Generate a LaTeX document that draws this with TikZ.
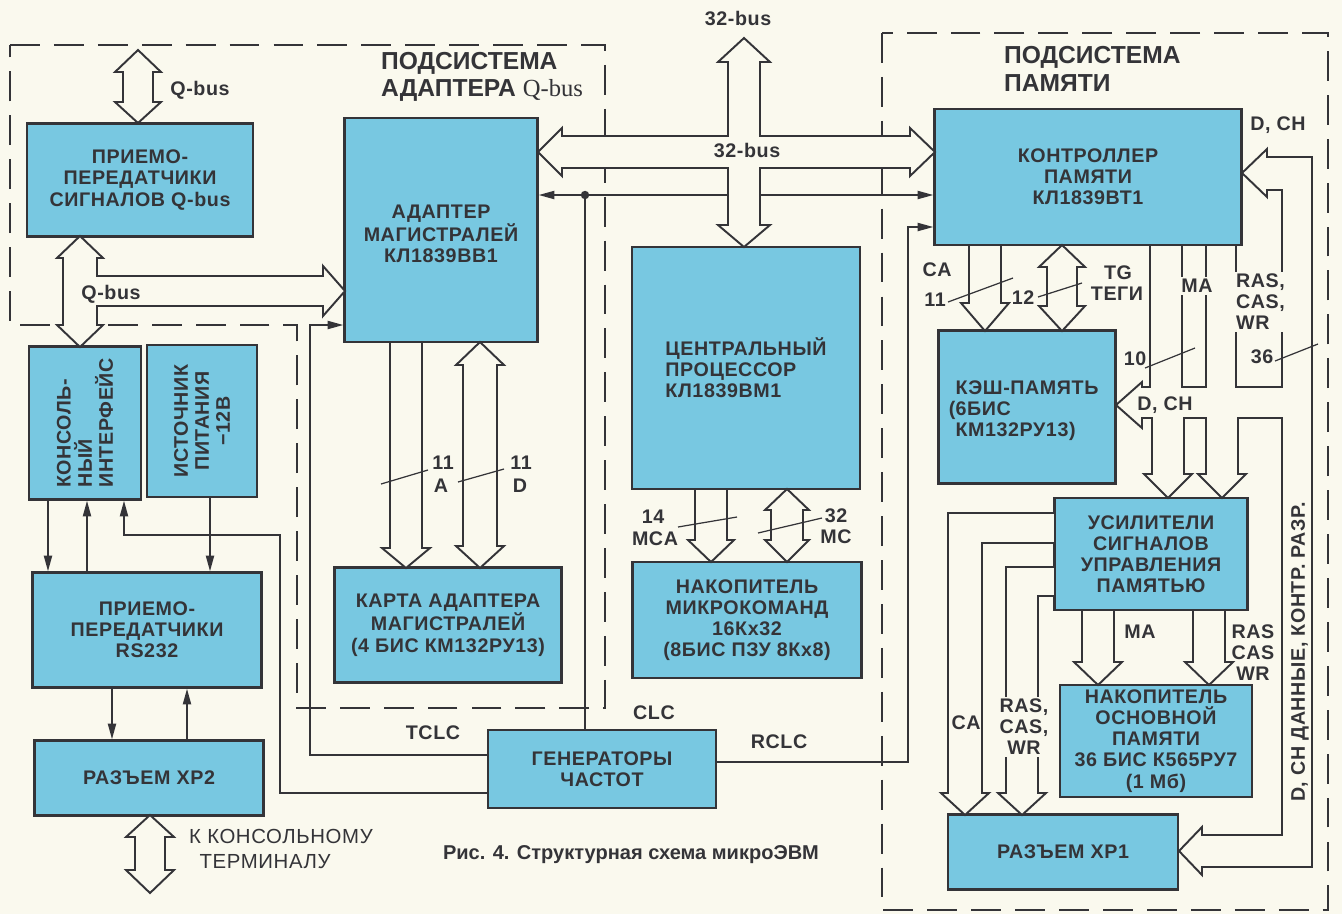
\documentclass[tikz,border=0pt]{standalone}
\usepackage{fontspec}
\setsansfont{Liberation Sans}
\newfontfamily\serfont{Liberation Serif}
\newfontfamily\boxfont[LetterSpace=3]{Liberation Sans}
\usepackage{xcolor}
\usepackage{tikz}
\usetikzlibrary{arrows.meta}

\definecolor{paper}{RGB}{250,249,238}
\definecolor{ink}{RGB}{52,52,56}
\definecolor{boxblue}{RGB}{120,200,225}

\begin{document}
\begin{tikzpicture}[x=0.02cm, y=-0.02cm,
    >={Triangle[length=9pt,width=4.6pt]},
    txt/.style={font=\boxfont\bfseries\fontsize{11.2}{12}\selectfont, text=ink},
    blk/.style={txt, draw=ink, fill=boxblue, line width=1.3pt, align=center, inner sep=2pt},
    bus/.style={draw=ink, fill=paper, line width=1.1pt, line join=miter},
    sig/.style={draw=ink, line width=1.1pt},
    zone/.style={draw=ink, line width=1.1pt, dash pattern=on 17pt off 8pt},
    lbl/.style={txt, inner sep=1pt},
    lblcut/.style={lbl, fill=paper},
    bits/.style={draw=ink, line width=0.7pt},
    title/.style={font=\sffamily\bfseries\fontsize{14}{15.5}\selectfont, text=ink, align=left, anchor=west}]

    \path[use as bounding box, fill=paper] (0,0) rectangle (1342,914);

    % Q-bus adapter
    \node[blk, minimum width=4.52cm, minimum height=2.26cm] (qtr) at (140,180) {ПРИЕМО-\\ПЕРЕДАТЧИКИ\\СИГНАЛОВ Q-bus};
    \node[blk, minimum width=3.86cm, minimum height=4.48cm] (adp) at (441,230) {\mbox{}\\АДАПТЕР\\МАГИСТРАЛЕЙ\\КЛ1839ВВ1};
    \node[blk, minimum width=4.54cm, minimum height=2.3cm] (karta) at (448,625) {КАРТА АДАПТЕРА\\МАГИСТРАЛЕЙ\\(4 БИС КМ132РУ13)};
    \node[blk, minimum width=2.24cm, minimum height=3.06cm] (kons) at (85,423) {};
    \node[lbl, rotate=90, align=left] (konstxt) at (kons.center) {КОНСОЛЬ-\\НЫЙ\\ИНТЕРФЕЙС};
    \node[blk, minimum width=2.2cm, minimum height=3.04cm] (ist) at (202,421) {};
    \node[lbl, rotate=90, align=center] (isttxt) at (ist.center) {ИСТОЧНИК\\ПИТАНИЯ\\−12В};
    \node[blk, minimum width=4.58cm, minimum height=2.3cm] (rs) at (147,630) {ПРИЕМО-\\ПЕРЕДАТЧИКИ\\RS232};
    \node[blk, minimum width=4.58cm, minimum height=1.5cm] (xp2) at (149,778) {РАЗЪЕМ ХР2};

    % processor
    \node[blk, minimum width=4.56cm, minimum height=4.84cm, align=left] (cpu) at (746,368) {ЦЕНТРАЛЬНЫЙ\\ПРОЦЕССОР\\КЛ1839ВМ1};
    \node[blk, minimum width=4.58cm, minimum height=2.32cm] (mkom) at (747,620) {НАКОПИТЕЛЬ\\МИКРОКОМАНД\\16Кx32\\(8БИС ПЗУ 8Кx8)};
    \node[blk, minimum width=4.56cm, minimum height=1.56cm] (gen) at (602,769) {ГЕНЕРАТОРЫ\\ЧАСТОТ};

    % memory
    \node[blk, minimum width=6.14cm, minimum height=2.72cm] (ctl) at (1088,177) {КОНТРОЛЛЕР\\ПАМЯТИ\\КЛ1839ВТ1};
    \node[blk, minimum width=3.54cm, minimum height=3.06cm, align=left] (kesh) at (1027,407) {\mbox{}\\КЭШ-ПАМЯТЬ\\\llap{(}6БИС\\КМ132РУ13)};
    \node[blk, minimum width=3.86cm, minimum height=2.24cm] (usil) at (1151,554) {УСИЛИТЕЛИ\\СИГНАЛОВ\\УПРАВЛЕНИЯ\\ПАМЯТЬЮ};
    \node[blk, minimum width=3.84cm, minimum height=2.24cm] (nak) at (1156,741) {НАКОПИТЕЛЬ\\ОСНОВНОЙ\\ПАМЯТИ\\36 БИС К565РУ7\\(1 Мб)};
    \node[blk, minimum width=4.6cm, minimum height=1.5cm] (xp1) at (1063,852) {РАЗЪЕМ ХР1};

    % subsystems
    \draw[zone] (10,45) -- (605,45) -- (605,708) -- (297,708) -- (297,325) -- (10,325) -- cycle;
    \draw[zone] (882,33) rectangle (1328,910);
    \node[title] (tq) at (375,77) {ПОДСИСТЕМА\\АДАПТЕРА {\serfont\mdseries Q-bus}};
    \node[title] (tm) at (998,69) {ПОДСИСТЕМА\\ПАМЯТИ};

    % clocks and control lines
    \coordinate (jn) at (585,195);
    \draw[sig, <->] (adp.east |- jn) -- (ctl.west |- jn);
    \draw[sig] (jn) -- (gen.north -| jn);
    \fill[ink] (jn) circle (2.4pt);
    \draw[sig, ->] (gen.west |- 0,755) -| (310,325) -- (adp.west |- 0,325);
    \draw[sig, ->] (gen.west |- 0,793) -| (280,535) -| (kons.south -| 124,0);
    \draw[sig, ->] (gen.east |- 0,762) -| (908,227) -- (ctl.west |- 0,227);
    \draw[sig, ->] (kons.south -| 48,0) -- (rs.north -| 48,0);
    \draw[sig, ->] (rs.north -| 87,0) -- (kons.south -| 87,0);
    \draw[sig, ->] (ist.south -| 210,0) -- (rs.north -| 210,0);
    \draw[sig, ->] (rs.south -| 112,0) -- (xp2.north -| 112,0);
    \draw[sig, ->] (xp2.north -| 187,0) -- (rs.south -| 187,0);

    % buses
    \filldraw[bus] (138,50) -- (161,72) -- (153,72) -- (153,102) -- (161,102) -- (138,123) -- (115,102) -- (123,102) -- (123,72) -- (115,72) -- cycle;
    \filldraw[bus] (80,236) -- (103,258) -- (97,258) -- (97,276) -- (323,276) -- (323,266) -- (345,291) -- (323,316) -- (323,306) -- (97,306) -- (97,325) -- (103,325) -- (80,347) -- (57,325) -- (63,325) -- (63,258) -- (57,258) -- cycle;
    \filldraw[bus] (744,38) -- (770,62) -- (760,62) -- (760,136) -- (910,136) -- (910,128) -- (935,152) -- (910,176) -- (910,168) -- (760,168) -- (760,225) -- (770,225) -- (744,247) -- (718,225) -- (728,225) -- (728,168) -- (562,168) -- (562,176) -- (538,152) -- (562,128) -- (562,136) -- (728,136) -- (728,62) -- (718,62) -- cycle;
    \filldraw[bus] (390,342) -- (390,548) -- (382,548) -- (406,568) -- (430,548) -- (422,548) -- (422,342) -- cycle;
    \filldraw[bus] (480,342) -- (504,365) -- (497,365) -- (497,546) -- (504,546) -- (480,568) -- (456,546) -- (463,546) -- (463,365) -- (456,365) -- cycle;
    \filldraw[bus] (695,489) -- (695,540) -- (688,540) -- (711,562) -- (734,540) -- (727,540) -- (727,489) -- cycle;
    \filldraw[bus] (787,489) -- (809,510) -- (803,510) -- (803,540) -- (809,540) -- (787,562) -- (765,540) -- (771,540) -- (771,510) -- (765,510) -- cycle;
    \filldraw[bus] (150,815) -- (174,837) -- (165,837) -- (165,870) -- (174,870) -- (150,893) -- (126,870) -- (135,870) -- (135,837) -- (126,837) -- cycle;
    \filldraw[bus] (969,245) -- (969,303) -- (961,303) -- (985,331) -- (1009,303) -- (1001,303) -- (1001,245) -- cycle;
    \filldraw[bus] (1062,245) -- (1085,267) -- (1077,267) -- (1077,306) -- (1085,306) -- (1062,331) -- (1039,306) -- (1047,306) -- (1047,267) -- (1039,267) -- cycle;
    % D, CH network
    \filldraw[bus] (1242,173) -- (1267,149) -- (1267,157) -- (1312,157) -- (1312,867) -- (1202,867) -- (1202,875) -- (1179,851) -- (1202,827) -- (1202,835) -- (1282,835)
        -- (1282,418) -- (1238,418) -- (1238,474) -- (1246,474) -- (1222,498) -- (1198,474) -- (1206,474) -- (1206,418)
        -- (1184,418) -- (1184,474) -- (1192,474) -- (1168,498) -- (1144,474) -- (1152,474) -- (1152,418)
        -- (1142,418) -- (1142,428) -- (1116,405) -- (1142,382) -- (1142,387) -- (1150,387) -- (1150,245)
        -- (1182,245) -- (1182,387) -- (1206,387) -- (1206,245) -- (1236,245) -- (1236,387) -- (1282,387)
        -- (1282,190) -- (1267,190) -- (1267,197) -- cycle;
    \filldraw[bus] (1055,513) -- (948,513) -- (948,793) -- (941,793) -- (965,815) -- (989,793) -- (982,793) -- (982,543) -- (1055,543) -- cycle;
    \filldraw[bus] (1055,567) -- (1006,567) -- (1006,793) -- (998,793) -- (1022,815) -- (1046,793) -- (1038,793) -- (1038,596) -- (1055,596) -- cycle;
    \filldraw[bus] (1082,610) -- (1082,662) -- (1074,662) -- (1098,685) -- (1122,662) -- (1114,662) -- (1114,610) -- cycle;
    \filldraw[bus] (1193,610) -- (1193,662) -- (1185,662) -- (1209,685) -- (1233,662) -- (1225,662) -- (1225,610) -- cycle;

    % bit counts
    \draw[bits] (381,484) -- (428,470);
    \draw[bits] (458,482) -- (504,469);
    \draw[bits] (678,527) -- (737,517);
    \draw[bits] (758,533) -- (822,518);
    \draw[bits] (948,302) -- (1013,278);
    \draw[bits] (1038,297) -- (1082,283);
    \draw[bits] (1145,368) -- (1195,348);
    \draw[bits] (1275,361) -- (1318,344);

    % labels
    \node[lbl] (lq1) at (200,90) {Q-bus};
    \node[lbl] (lq2) at (111,294) {Q-bus};
    \node[lbl] (l32a) at (738,18) {32-bus};
    \node[lbl] (l32b) at (747,150) {32-bus};
    \node[lbl] (la1) at (443,463) {11};
    \node[lbl] (la2) at (441,486) {A};
    \node[lbl] (ld1) at (521,463) {11};
    \node[lbl] (ld2) at (520,486) {D};
    \node[lbl] (lm1) at (653,517) {14};
    \node[lbl] (lm2) at (655,539) {MCA};
    \node[lbl] (lm3) at (836,516) {32};
    \node[lbl] (lm4) at (836,537) {MC};
    \node[lbl] (lca1) at (937,270) {CA};
    \node[lbl] (lca2) at (935,300) {11};
    \node[lbl] (ltg1) at (1023,298) {12};
    \node[lbl] (ltg2) at (1118,273) {TG};
    \node[lbl] (ltg3) at (1117,294) {ТЕГИ};
    \node[lblcut] (lma1) at (1197,286) {MA};
    \node[lblcut, align=left, anchor=west] (lras1) at (1234,302) {RAS,\\CAS,\\WR};
    \node[lbl] (l10) at (1135,359) {10};
    \node[lbl] (l36) at (1262,357) {36};
    \node[lbl] (ldch1) at (1165,405) {D, CH};
    \node[lbl] (ldch2) at (1278,125) {D, CH};
    \node[lbl, rotate=90] (ldch3) at (1300,652) {D, CH ДАННЫЕ, КОНТР. РАЗР.};
    \node[lbl] (lca3) at (966,723) {CA};
    \node[lblcut, align=center] (lras2) at (1024,727) {RAS,\\CAS,\\WR};
    \node[lbl] (lma2) at (1140,632) {MA};
    \node[lbl, align=center] (lras3) at (1253,653) {RAS\\CAS\\WR};
    \node[lbl] (ltclc) at (433,733) {TCLC};
    \node[lbl] (lclc) at (654,713) {CLC};
    \node[lbl] (lrclc) at (779,742) {RCLC};
    \node[lbl, font=\boxfont\fontsize{11.6}{14}\selectfont, align=left, anchor=west] (lterm) at (187,849) {К КОНСОЛЬНОМУ\\\hspace{6pt}ТЕРМИНАЛУ};
    \node[lbl, font=\sffamily\bfseries\fontsize{11.4}{12}\selectfont] (cap) at (631,855) {Рис. 4. Структурная схема микроЭВМ};

\end{tikzpicture}
\end{document}
